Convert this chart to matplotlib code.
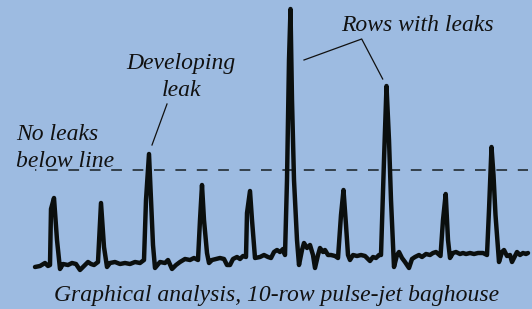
import matplotlib
matplotlib.use("Agg")
import matplotlib.pyplot as plt

# trace: time (x) and pressure level (arbitrary units)
t = [35, 40, 45, 48, 50, 51, 54, 57, 60, 63, 68, 72, 76, 80, 84, 88, 91, 94, 98, 101,
     104, 107, 110, 115, 120, 125, 130, 135, 140, 144, 146, 149, 151, 153, 155, 160, 165, 168, 172, 176,
     180, 185, 190, 194, 198, 200, 202, 204, 207, 209, 212, 216, 220, 224, 227, 230, 233, 237, 240, 243,
     246, 247, 250, 252, 255, 260, 264, 268, 271, 274, 277, 280, 283, 285, 287, 289, 290.5, 292, 294, 297,
     299, 302, 304, 307, 310, 313, 315, 318, 320, 323, 325, 328, 331, 335, 338, 341, 343.5, 346, 348, 350,
     353, 357, 361, 365, 368, 370, 373, 376, 379, 381, 384, 386.5, 389, 391, 394, 397, 399, 402, 405, 409,
     412, 415, 419, 422, 426, 430, 433, 436, 440.5, 443, 445.7, 448, 450, 453, 456, 460, 463, 466, 470, 474,
     478, 483, 487, 489, 491.5, 493.5, 495.5, 499, 502, 504, 507, 510, 512, 514, 517, 520, 523, 526, 528]
level = [33, 34, 37, 34, 35, 91, 102, 60, 31, 36, 35, 37, 36, 30, 34, 38, 36, 35, 38, 97,
         53, 33, 37, 38, 36, 37, 36, 38, 37, 40, 100, 146, 100, 55, 32, 38, 37, 40, 31, 35,
         38, 41, 40, 42, 40, 80, 115, 80, 47, 37, 40, 41, 42, 41, 35, 35, 41, 43, 41, 44,
         43, 87, 109, 80, 42, 43, 45, 43, 42, 48, 50, 48, 51, 45, 120, 240, 291, 200, 120, 60,
         35, 50, 57, 52, 55, 45, 32, 45, 52, 48, 50, 45, 45, 44, 42, 85, 110, 75, 45, 40,
         45, 44, 45, 44, 41, 39, 43, 42, 45, 45, 140, 214, 160, 100, 33, 45, 48, 42, 38, 32,
         41, 43, 45, 43, 46, 45, 47, 48, 44, 80, 106, 60, 42, 47, 48, 46, 47, 46, 47, 46,
         47, 47, 45, 90, 153, 125, 85, 38, 48, 50, 44, 45, 38, 42, 48, 45, 47, 46, 47]

threshold = 130
threshold_span = [35, 528]

bg = '#9dbbe1'
fig = plt.figure(figsize=(5.32, 3.09), dpi=100, facecolor=bg)
ax = fig.add_axes([0, 0, 1, 1])
ax.set_facecolor(bg)
ax.set_xlim(0, 532)
ax.set_ylim(-9, 300)
ax.axis('off')

ax.plot(threshold_span, [threshold, threshold], color='#36434f', lw=1.44,
        linestyle=(4.7, (5.35, 5.35)))
ax.plot(t, level, color='#0b0f0e', lw=3.2, solid_joinstyle='round', solid_capstyle='round')

# leader lines
ax.plot([167, 152], [196, 155], color='#111111', lw=0.9)
ax.plot([304, 361.7, 382.7], [240, 261, 221], color='#111111', lw=0.9)

font = dict(family='Liberation Serif', style='italic', size=17, color='#111111')
ax.text(417, 269, 'Rows with leaks', ha='center', va='baseline', **font)
ax.text(181, 231, 'Developing', ha='center', va='baseline', **font)
ax.text(181, 204, 'leak', ha='center', va='baseline', **font)
ax.text(16, 160, 'No leaks', ha='left', va='baseline', **font)
ax.text(16, 133, 'below line', ha='left', va='baseline', **font)
ax.text(277, -1, 'Graphical analysis, 10-row pulse-jet baghouse', ha='center', va='baseline', **font)

fig.savefig('out.png', dpi=100, facecolor=bg)
